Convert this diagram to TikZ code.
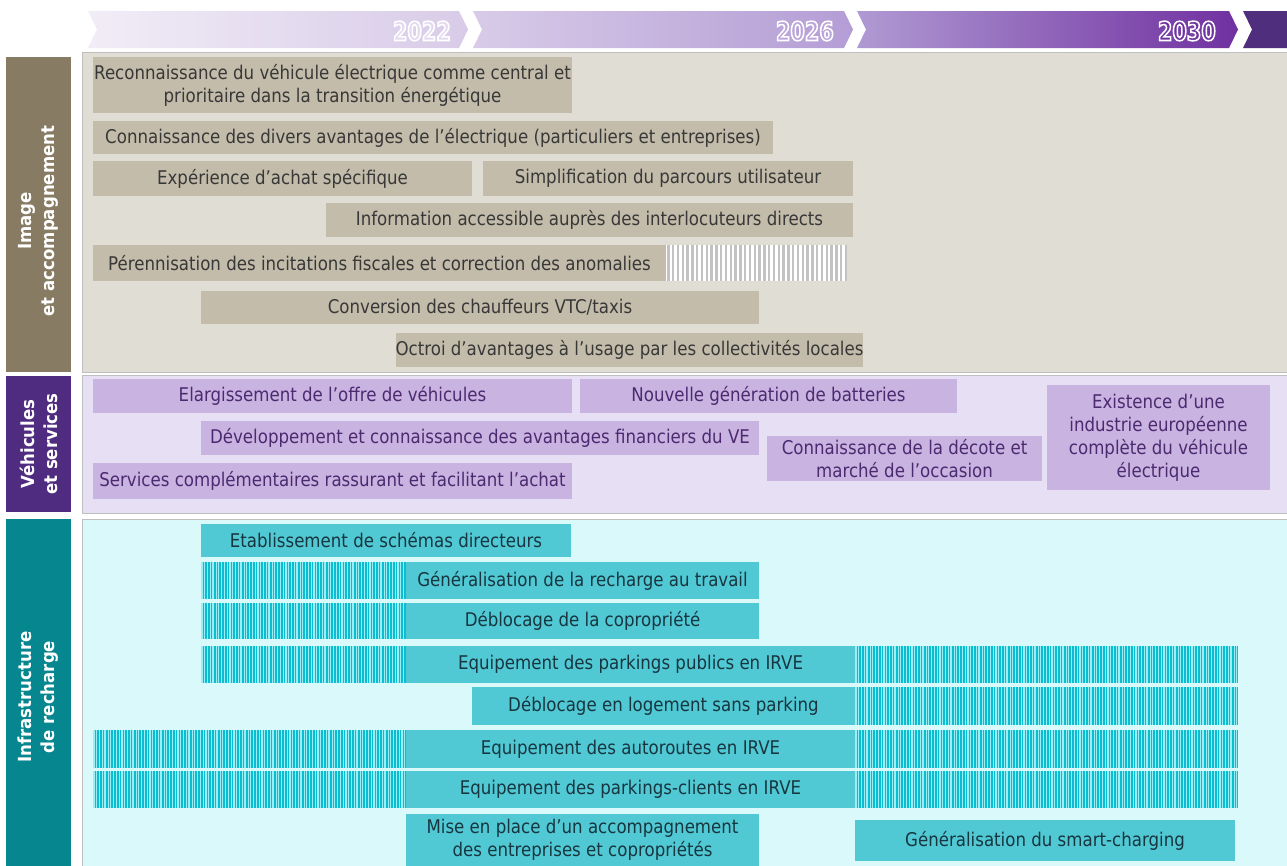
\documentclass[tikz,border=0pt]{standalone}
\usepackage{fontspec}
\setmainfont{DejaVu Sans}[FakeStretch=0.88]
\newfontfamily\yearfont{DejaVu Sans Bold}[FakeStretch=0.8, FakeBold=6]
\newfontfamily\sidefont{DejaVu Sans Bold}[FakeStretch=0.92]
\definecolor{tanP}{HTML}{E0DDD5}
\definecolor{tanB}{HTML}{C3BCAA}
\definecolor{lavP}{HTML}{E7DFF3}
\definecolor{lavB}{HTML}{C9B3E1}
\definecolor{cyaP}{HTML}{D9F9FB}
\definecolor{cyaB}{HTML}{51C9D5}
\definecolor{sideA}{HTML}{877C63}
\definecolor{sideB}{HTML}{4F2C80}
\definecolor{sideC}{HTML}{06878F}
\definecolor{txtA}{HTML}{383838}
\definecolor{txtB}{HTML}{4B2A70}
\definecolor{txtC}{HTML}{17363F}
\definecolor{hatchC}{HTML}{0ABDD0}
\definecolor{hatchCl}{HTML}{9AEEF5}
\definecolor{hatchG}{HTML}{C2C2C2}
\definecolor{segA}{HTML}{F1EDF7}
\definecolor{segB}{HTML}{D8CBE8}
\definecolor{segC}{HTML}{B49DD5}
\definecolor{segD}{HTML}{B09AD3}
\definecolor{segE}{HTML}{7030A0}
\definecolor{segF}{HTML}{4F2F7D}
\definecolor{yrA}{HTML}{E3DAEF}
\definecolor{yrB}{HTML}{BBA6DA}
\definecolor{yrC}{HTML}{6E34A2}
\newcommand\bodyfont{\fontsize{18.9}{23}\selectfont}
\newcommand\outlined[2]{{\color{#1}\special{pdf:literal 1 1 1 RG}#2}}
\tikzset{
  panelbox/.style={draw=black!25, line width=0.8pt},
  basebox/.style={inner sep=0pt, outer sep=0pt, align=center, font=\bodyfont, rectangle},
  tanbox/.style={basebox, fill=tanB, text=txtA},
  lavbox/.style={basebox, fill=lavB, text=txtB},
  cyabox/.style={basebox, fill=cyaB, text=txtC},
  sidebar/.style={inner sep=0pt, outer sep=0pt, text=white, align=center, rotate=90,
     font=\sidefont\fontsize{18}{23}\selectfont},
  yearlabel/.style={inner sep=0pt, anchor=east, font=\yearfont\fontsize{26}{26}\selectfont}
}
% #1 name, #2 style, #3 x1, #4 y1, #5 x2, #6 y2, #7 text
\newcommand\rbox[7]{%
  \node[#2, minimum width={(#5)-(#3)}, minimum height={(#6)-(#4)}] (#1)
     at ({((#3)+(#5))/2},{((#4)+(#6))/2}) {#7};}
% grey hatch: #1 x1 #2 y1 #3 x2 #4 y2
\newcommand\greyhatch[4]{%
  \begin{scope}
  \clip (#1,#2) rectangle (#3,#4);
  \fill[white] (#1,#2) rectangle (#3,#4);
  \pgfmathtruncatemacro\hn{((#3)-(#1))/4.8}
  \foreach \i in {0,...,\hn}
    \draw[hatchG, line width=2.3pt] ({#1+\i*4.8+2.4},#2) -- ({#1+\i*4.8+2.4},#4);
  \end{scope}}
% cyan hatch: #1 x1 #2 y1 #3 x2 #4 y2
\newcommand\cyanhatch[4]{%
  \begin{scope}
  \clip (#1,#2) rectangle (#3,#4);
  \fill[hatchC] (#1,#2) rectangle (#3,#4);
  \pgfmathtruncatemacro\hn{((#3)-(#1))/5.6}
  \foreach \i in {0,...,\hn} {
    \draw[hatchCl, line width=1.4pt] ({#1+\i*5.6+0.8},#2) -- ({#1+\i*5.6+0.8},#4);
    \draw[hatchCl, line width=0.9pt] ({#1+\i*5.6+3.9},#2) -- ({#1+\i*5.6+3.9},#4);
  }
  \end{scope}}
\begin{document}
\begin{tikzpicture}[x=1pt,y=-1pt]
\useasboundingbox (0,0) rectangle (1287,865);
\fill[white] (0,0) rectangle (1287,865);
\begin{scope}
\clip (0,0) rectangle (1287,865);
% header chevrons
\shade[left color=segA, right color=segB] (88,11) -- (459,11) -- (468,29.5) -- (459,48) -- (88,48) -- (97,29.5) -- cycle;
\shade[left color=segB, right color=segC] (473,11) -- (844,11) -- (853,29.5) -- (844,48) -- (473,48) -- (482,29.5) -- cycle;
\shade[left color=segD, right color=segE] (857,11) -- (1229,11) -- (1238,29.5) -- (1229,48) -- (857,48) -- (866,29.5) -- cycle;
\fill[segF] (1243,11) -- (1290,11) -- (1290,48) -- (1243,48) -- (1252,29.5) -- cycle;
\node[yearlabel] (y2022) at (451,31) {\outlined{yrA}{2022}};
\node[yearlabel] (y2026) at (834,31) {\outlined{yrB}{2026}};
\node[yearlabel] (y2030) at (1216,31) {\outlined{yrC}{2030}};
% panels
\fill[tanP, panelbox] (82,52) rectangle (1290,372);
\fill[lavP, panelbox] (82,375) rectangle (1290,513);
\fill[cyaP, panelbox] (82,519) rectangle (1290,870);
% side bars
\fill[sideA] (6,57) rectangle (71,372);
\fill[sideB] (6,376) rectangle (71,512);
\fill[sideC] (6,519) rectangle (71,870);
\node[sidebar] (sA) at (38.5,221) {Image\\et accompagnement};
\node[sidebar] (sB) at (38.5,444) {Véhicules\\et services};
\node[sidebar] (sC) at (38.5,697) {Infrastructure\\de recharge};
% panel 1
\rbox{p1a}{tanbox}{93}{57}{572}{113}{Reconnaissance du véhicule électrique comme central et\\prioritaire dans la transition énergétique}
\rbox{p1b}{tanbox}{93}{121}{773}{154}{Connaissance des divers avantages de l’électrique (particuliers et entreprises)}
\rbox{p1c}{tanbox}{93}{161}{472}{196}{Expérience d’achat spécifique}
\rbox{p1d}{tanbox}{483}{161}{853}{196}{Simplification du parcours utilisateur}
\rbox{p1e}{tanbox}{326}{203}{853}{237}{Information accessible auprès des interlocuteurs directs}
\rbox{p1f}{tanbox}{93}{245}{666}{281}{Pérennisation des incitations fiscales et correction des anomalies}
\greyhatch{666}{245}{847}{281}
\rbox{p1g}{tanbox}{201}{291}{759}{324}{Conversion des chauffeurs VTC/taxis}
\rbox{p1h}{tanbox}{397}{333}{862}{367}{Octroi d’avantages à l’usage par les collectivités locales}
% panel 2
\rbox{p2a}{lavbox}{93}{379}{572}{413}{Elargissement de l’offre de véhicules}
\rbox{p2b}{lavbox}{580}{379}{957}{413}{Nouvelle génération de batteries}
\rbox{p2c}{lavbox}{201}{421}{759}{455}{Développement et connaissance des avantages financiers du VE}
\rbox{p2d}{lavbox}{93}{463}{572}{499}{Services complémentaires rassurant et facilitant l’achat}
\rbox{p2e}{lavbox}{767}{436}{1042}{481}{Connaissance de la décote et\\marché de l’occasion}
\rbox{p2f}{lavbox}{1047}{385}{1270}{490}{Existence d’une\\industrie européenne\\complète du véhicule\\électrique}
% panel 3
\rbox{p3a}{cyabox}{201}{524}{571}{557}{Etablissement de schémas directeurs}
\cyanhatch{201}{562}{406}{599}
\rbox{p3b}{cyabox}{406}{562}{759}{599}{Généralisation de la recharge au travail}
\cyanhatch{201}{603}{406}{639}
\rbox{p3c}{cyabox}{406}{603}{759}{639}{Déblocage de la copropriété}
\cyanhatch{201}{646}{406}{683}
\rbox{p3d}{cyabox}{406}{646}{855}{683}{Equipement des parkings publics en IRVE}
\cyanhatch{855}{646}{1238}{683}
\rbox{p3e}{cyabox}{472}{687}{855}{725}{Déblocage en logement sans parking}
\cyanhatch{855}{687}{1238}{725}
\cyanhatch{93}{730}{406}{768}
\rbox{p3f}{cyabox}{406}{730}{855}{768}{Equipement des autoroutes en IRVE}
\cyanhatch{855}{730}{1238}{768}
\cyanhatch{93}{771}{406}{808}
\rbox{p3g}{cyabox}{406}{771}{855}{808}{Equipement des parkings-clients en IRVE}
\cyanhatch{855}{771}{1238}{808}
\rbox{p3h}{cyabox}{406}{814}{759}{866}{Mise en place d’un accompagnement\\des entreprises et copropriétés}
\rbox{p3i}{cyabox}{855}{820}{1235}{861}{Généralisation du smart-charging}
\end{scope}
\end{tikzpicture}
\end{document}
